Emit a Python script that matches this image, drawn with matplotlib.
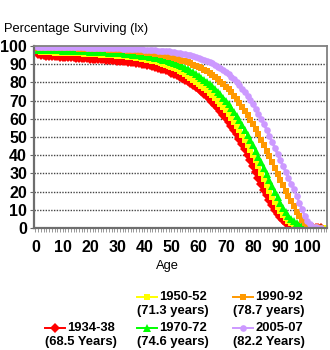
import matplotlib
matplotlib.use("Agg")
import matplotlib.pyplot as plt
from matplotlib.lines import Line2D

plt.rcParams["font.family"] = ["Liberation Sans", "DejaVu Sans"]

# Percentage surviving (lx) by age
ages = list(range(0, 111))

lx_1934 = [
    100, 95.5, 95.1, 94.9, 94.7, 94.6, 94.5, 94.4, 94.3, 94.2,
    94.1, 94.0, 93.9, 93.8, 93.7, 93.6, 93.5, 93.4, 93.3, 93.2,
    93.1, 93.0, 92.9, 92.8, 92.7, 92.6, 92.5, 92.4, 92.3, 92.2,
    92.0, 91.9, 91.7, 91.6, 91.4, 91.2, 91.0, 90.8, 90.6, 90.3,
    90.0, 89.7, 89.3, 88.9, 88.5, 88.1, 87.6, 87.1, 86.6, 86.0,
    85.4, 84.7, 84.0, 83.2, 82.4, 81.5, 80.6, 79.6, 78.6, 77.5,
    76.3, 75.1, 73.8, 72.4, 70.9, 69.4, 67.7, 66.0, 64.2, 62.3,
    60.3, 58.2, 56.1, 53.9, 51.6, 49.0, 46.2, 43.3, 40.3, 37.2,
    34.1, 30.8, 27.5, 24.3, 21.0, 18.0, 15.2, 12.5, 10.0, 7.8,
    5.9, 4.3, 3.0, 2.0, 1.3, 0.8, 0.5, 0.3, 0.2, 0.1,
    0, 0, 0, 0, 0, 0]

lx_1950 = [
    100, 97.0, 96.8, 96.7, 96.6, 96.5, 96.5, 96.4, 96.4, 96.3,
    96.3, 96.2, 96.2, 96.1, 96.1, 96.0, 95.9, 95.9, 95.8, 95.7,
    95.6, 95.5, 95.5, 95.4, 95.3, 95.2, 95.1, 95.0, 94.9, 94.8,
    94.7, 94.6, 94.4, 94.3, 94.1, 94.0, 93.8, 93.6, 93.3, 93.0,
    92.7, 92.4, 92.1, 91.8, 91.5, 91.1, 90.7, 90.2, 89.7, 89.1,
    88.5, 87.8, 87.1, 86.3, 85.5, 84.6, 83.6, 82.6, 81.5, 80.4,
    79.2, 78.1, 76.9, 75.7, 74.4, 73.0, 71.5, 70.0, 68.3, 66.5,
    64.6, 62.6, 60.5, 58.3, 56.0, 53.6, 51.1, 48.5, 45.8, 43.0,
    40.1, 37.1, 33.8, 30.4, 27.0, 23.6, 20.3, 17.2, 14.3, 11.6,
    9.2, 7.1, 5.3, 3.8, 2.6, 1.7, 1.1, 0.6, 0.3, 0.2,
    0.1, 0, 0, 0, 0, 0, 0, 0, 0]

lx_1970 = [
    100, 98.0, 97.9, 97.8, 97.8, 97.7, 97.7, 97.6, 97.6, 97.6,
    97.5, 97.5, 97.5, 97.4, 97.4, 97.3, 97.3, 97.2, 97.1, 97.0,
    96.9, 96.8, 96.8, 96.7, 96.6, 96.5, 96.5, 96.4, 96.3, 96.2,
    96.1, 96.0, 95.9, 95.8, 95.6, 95.5, 95.3, 95.1, 94.9, 94.7,
    94.5, 94.3, 94.1, 93.8, 93.5, 93.2, 92.9, 92.5, 92.1, 91.7,
    91.2, 90.7, 90.1, 89.5, 88.8, 88.1, 87.3, 86.4, 85.5, 84.6,
    83.6, 82.6, 81.5, 80.4, 79.2, 77.9, 76.5, 75.0, 73.4, 71.7,
    69.9, 68.0, 66.0, 63.8, 61.5, 59.1, 56.6, 54.0, 51.3, 48.5,
    45.5, 42.4, 39.2, 36.0, 32.7, 29.4, 26.1, 22.9, 19.8, 16.9,
    13.9, 11.2, 8.8, 6.7, 5.0, 3.6, 2.5, 1.7, 1.1, 0.7,
    0.4, 0.2, 0.1, 0, 0, 0]

lx_1990 = [
    100, 99.1, 99.0, 99.0, 98.9, 98.9, 98.9, 98.9, 98.8, 98.8,
    98.8, 98.8, 98.8, 98.7, 98.7, 98.7, 98.6, 98.6, 98.5, 98.4,
    98.4, 98.3, 98.3, 98.2, 98.2, 98.1, 98.1, 98.0, 98.0, 97.9,
    97.8, 97.7, 97.7, 97.6, 97.5, 97.4, 97.3, 97.1, 96.9, 96.8,
    96.6, 96.4, 96.2, 96.0, 95.8, 95.5, 95.2, 94.9, 94.6, 94.2,
    93.8, 93.4, 93.0, 92.5, 92.0, 91.5, 91.0, 90.4, 89.8, 89.1,
    88.4, 87.7, 86.9, 86.0, 85.0, 84.0, 82.9, 81.7, 80.4, 79.1,
    77.7, 76.1, 74.5, 72.7, 70.8, 68.8, 66.7, 64.4, 62.0, 59.5,
    56.9, 54.2, 51.4, 48.5, 45.5, 42.4, 39.3, 36.1, 32.9, 29.7,
    26.5, 23.4, 20.4, 17.5, 14.7, 12.0, 9.0, 6.5, 4.5, 3.0,
    1.9, 1.1, 0.6, 0.3, 0.1, 0]

lx_2005 = [
    100, 99.5, 99.5, 99.5, 99.4, 99.4, 99.4, 99.4, 99.4, 99.4,
    99.4, 99.3, 99.3, 99.3, 99.3, 99.3, 99.2, 99.2, 99.2, 99.1,
    99.1, 99.1, 99.0, 99.0, 99.0, 98.9, 98.9, 98.8, 98.8, 98.8,
    98.7, 98.7, 98.6, 98.6, 98.5, 98.5, 98.4, 98.3, 98.2, 98.1,
    98.0, 97.9, 97.8, 97.7, 97.6, 97.5, 97.4, 97.2, 97.1, 97.0,
    96.8, 96.6, 96.4, 96.1, 95.8, 95.5, 95.2, 94.8, 94.4, 94.0,
    93.5, 93.0, 92.4, 91.8, 91.1, 90.4, 89.6, 88.7, 87.8, 86.7,
    85.6, 84.4, 83.1, 81.6, 80.1, 78.4, 76.6, 74.7, 72.6, 70.4,
    68.0, 65.5, 62.8, 60.0, 57.0, 53.9, 50.7, 47.4, 44.0, 40.6,
    37.2, 34.0, 30.8, 27.6, 24.4, 21.2, 17.8, 14.0, 10.2, 6.8,
    4.0, 2.0, 0.8, 0.3, 0.1, 0]

periods = ["1934-38", "1950-52", "1970-72", "1990-92", "2005-07"]
expectancy = ["(68.5 Years)", "(71.3 years)", "(74.6 years)",
              "(78.7 years)", "(82.2 Years)"]
series = [lx_1934, lx_1950, lx_1970, lx_1990, lx_2005]
colors = ["#ff0000", "#ffff00", "#00ff00", "#ff9900", "#cc99ff"]
markers = ["D", "s", "^", "s", "o"]
msizes = [4.6, 4.4, 5.2, 4.4, 4.8]

W, H = 330, 350
fig = plt.figure(figsize=(3.3, 3.5), dpi=100)
ax = fig.add_axes([34 / W, 1 - 228 / H, (327 - 34) / W, (228 - 46) / H])

lines = []
for vals, c, m, ms in zip(series, colors, markers, msizes):
    ln, = ax.plot(ages[:len(vals)], vals, color=c, lw=1.8, marker=m,
                  markersize=ms, markeredgewidth=0, clip_on=True)
    lines.append(ln)

ax.set_xlim(-0.55, 107.2)
ax.set_ylim(0, 100)
ax.set_xticks(range(0, 101, 10))
ax.set_xticks(range(0, 108), minor=True)
ax.set_yticks(range(0, 101, 10))
for v in range(10, 100, 10):
    ax.axhline(v, color="#444444", lw=1.0, ls=(0, (1, 1)), zorder=0)

for s in ["top", "right"]:
    ax.spines[s].set_color("#808080")
    ax.spines[s].set_linewidth(1.3)
for s in ["left", "bottom"]:
    ax.spines[s].set_color("#6e6e6e")
    ax.spines[s].set_linewidth(1.6)

ax.tick_params(axis="x", which="both", length=3, width=0.6, color="#888888",
               pad=6, labelsize=11.5)
ax.tick_params(axis="y", length=3, width=0.8, color="#666666", pad=2,
               labelsize=11.5)
for lab in ax.get_xticklabels() + ax.get_yticklabels():
    lab.set_fontweight("bold")

fig.text(4 / W, 1 - 29 / H, "Percentage Surviving (lx)", fontsize=9.3,
         va="center", ha="left")
fig.text(167 / W, 1 - 266 / H, "Age", fontsize=9.3, va="center", ha="center")

# legend, laid out as in the original (three columns, wrapped labels)
slots = [(45, 328), (137, 297), (137, 328), (233, 297), (233, 328)]
for ln, per, exp, (x0, y0) in zip(lines, periods, expectancy, slots):
    h = Line2D([x0 / W, (x0 + 20) / W], [1 - y0 / H, 1 - y0 / H],
               transform=fig.transFigure, color=ln.get_color(), lw=1.4)
    h2 = Line2D([(x0 + 10) / W], [1 - y0 / H], transform=fig.transFigure,
                color=ln.get_color(), lw=0, marker=ln.get_marker(),
                markersize=ln.get_markersize(), markeredgewidth=0)
    fig.add_artist(h)
    fig.add_artist(h2)
    fig.text((x0 + 22) / W, 1 - y0 / H, per, fontsize=9.4, fontweight="bold",
             va="center", ha="left")
    fig.text((x0 + 0) / W, 1 - (y0 + 14) / H, exp, fontsize=9.4,
             fontweight="bold", va="center", ha="left")

fig.savefig("out.png", dpi=100)
